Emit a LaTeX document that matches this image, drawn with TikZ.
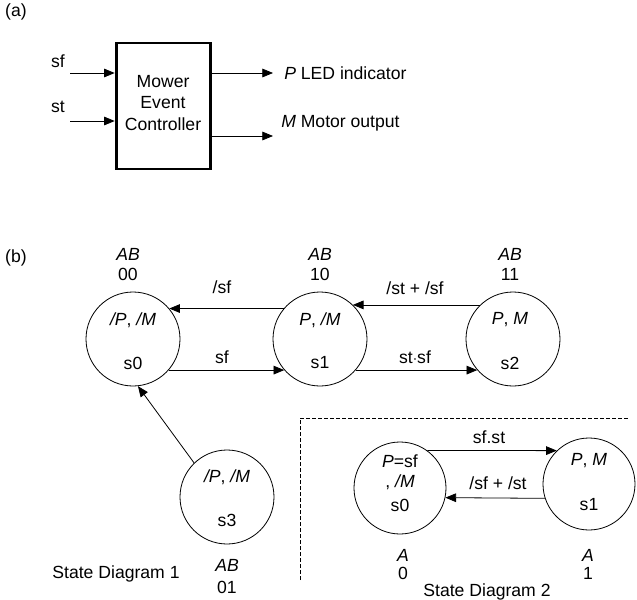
\documentclass[tikz,border=0pt]{standalone}
\usepackage{fontspec}
\setmainfont{Liberation Sans}
\usetikzlibrary{arrows.meta}
\begin{document}
\begin{tikzpicture}[x=0.75pt,y=-0.75pt,
  txt/.style={inner sep=0pt,font=\fontsize{13.2}{16}\selectfont},
  state/.style={draw,circle,minimum size=70.5pt,inner sep=0pt,line width=0.6pt},
  statesm/.style={draw,circle,minimum size=69pt,inner sep=0pt,line width=0.6pt},
  arr/.style={line width=0.6pt,-{Triangle[length=8pt,width=6.5pt]}},
  blk/.style={draw,line width=2.2pt,inner sep=0pt}]
\useasboundingbox (0,0) rectangle (637,600);
% ---------- (a)
\node[txt] (la) at (16,12) {(a)};
\node[blk,minimum width=71pt,minimum height=94.5pt] (box) at (163.5,106) {};
\node[txt,align=center] (boxt) at (163,103) {Mower\\Event\\Controller};
\node[txt] (lsf) at (58,61) {sf};
\node[txt] (lst) at (58,107) {st};
\coordinate (insf) at (70,73);
\coordinate (inst) at (70,121);
\coordinate (outP) at (273,73);
\coordinate (outM) at (273,136);
\draw[arr] (insf) -- (insf -| box.west);
\draw[arr] (inst) -- (inst -| box.west);
\draw[arr] (outP -| box.east) -- (outP);
\draw[arr] (outM -| box.east) -- (outM);
\node[txt,anchor=west] (lP) at (284,73) {\textit{P} LED indicator};
\node[txt,anchor=west] (lM) at (281,123) {\textit{M} Motor output};
% ---------- (b)
\node[txt] (lb) at (16,258) {(b)};
\node[state] (s0) at (133,339) {};
\node[state] (s1) at (320,339) {};
\node[state] (s2) at (513,339) {};
\node[state] (s3) at (227,497) {};
\node[txt] (s0a) at (133,320) {\textit{/P}, \textit{/M}};
\node[txt] (s0b) at (133,363) {s0};
\node[txt] (s1a) at (320,320) {\textit{P}, \textit{/M}};
\node[txt] (s1b) at (320,363) {s1};
\node[txt] (s2a) at (510,320) {\textit{P}, \textit{M}};
\node[txt] (s2b) at (510,363) {s2};
\node[txt] (s3a) at (227,477) {\textit{/P}, \textit{/M}};
\node[txt] (s3b) at (227,520) {s3};
\node[txt] (ab0) at (128,254) {\textit{AB}};
\node[txt] (c0) at (128,274) {00};
\node[txt] (ab1) at (320,254) {\textit{AB}};
\node[txt] (c1) at (320,274) {10};
\node[txt] (ab2) at (510,254) {\textit{AB}};
\node[txt] (c2) at (510,274) {11};
\node[txt] (ab3) at (227,565) {\textit{AB}};
\node[txt] (c3) at (227,587) {01};
\draw[arr] (s1.140) -- (s0.40);
\draw[arr] (s0.-41) -- (s1.-139);
\draw[arr] (s2.134) -- (s1.46);
\draw[arr] (s1.-41) -- (s2.-139);
\draw[arr] (s3.134) -- (s0.-84);
\node[txt] (e1) at (222,287) {/sf};
\node[txt] (e2) at (222,357) {sf};
\node[txt] (e3) at (415,288) {/st + /sf};
\node[txt] (e4) at (415,357) {st$\cdot$sf};
\node[txt] (sd1) at (116,574) {State Diagram 1};
% ---------- State diagram 2
\coordinate (dA) at (300,580);
\coordinate (dB) at (300,418);
\coordinate (dC) at (628,418);
\draw[line width=0.6pt,dash pattern=on 3pt off 1.5pt] (dA) -- (dB) -- (dC);
\node[statesm] (t0) at (400,488) {};
\node[statesm] (t1) at (589,484) {};
\node[txt] (t0a) at (400,461) {\textit{P}=sf};
\node[txt] (t0b) at (400,482) {, \textit{/M}};
\node[txt] (t0c) at (400,505) {s0};
\node[txt] (t1a) at (589,461) {\textit{P}, \textit{M}};
\node[txt] (t1b) at (589,505) {s1};
\draw[arr] (t0.54) -- (t1.134);
\draw[arr] (t1.198) -- (t0.-12);
\node[txt] (f1) at (489,437) {sf.st};
\node[txt] (f2) at (498,483) {/sf + /st};
\node[txt] (a0) at (403,555) {\textit{A}};
\node[txt] (b0) at (403,573) {0};
\node[txt] (a1) at (588,555) {\textit{A}};
\node[txt] (b1) at (588,573) {1};
\node[txt] (sd2) at (487,592) {State Diagram 2};
\end{tikzpicture}
\end{document}
